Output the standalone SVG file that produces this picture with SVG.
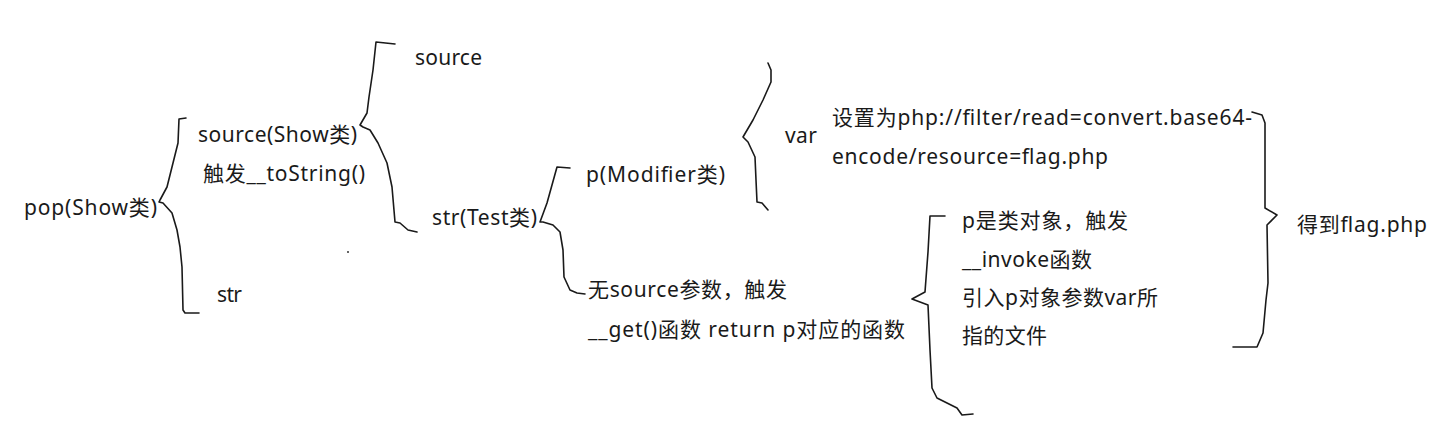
<svg xmlns="http://www.w3.org/2000/svg" width="1451" height="431" viewBox="0 0 1451 431">
<style>
.t{font-family:"Noto Sans","Noto Sans CJK SC",sans-serif;font-size:21px;fill:#1a1a1a}
.b{fill:none;stroke:#1a1a1a;stroke-width:1.6;stroke-linejoin:round;stroke-linecap:round}
</style>
<rect width="1451" height="431" fill="#ffffff"/>
<g id="connectors">
<path class="b" d="M186,118 L179,119 L178,143 L173,163 L167,187 L160,200 L159,202 L163,203 L172,213 L177,230 L180,247 L182,267 L183,310 L185,313 L199,313"/>
<path class="b" d="M395,44 L376,42 L373,70 L369,97 L367,113 L360,125 L363,127 L370,130 L378,143 L387,163 L392,187 L395,222 L400,223 L408,230 L417,232"/>
<path class="b" d="M570,168 L557,167 L547,203 L540,222 L543,222 L553,225 L560,232 L563,250 L564,277 L570,290 L577,293 L585,294"/>
<path class="b" d="M768,63 L771,70 L771,82 L763,100 L753,120 L743,137 L748,142 L755,157 L756,180 L757,202 L762,203 L768,210"/>
<path class="b" d="M1252,112 L1262,115 L1265,123 L1265,208 L1277,215 L1267,225 L1268,283 L1266,300 L1263,333 L1257,347 L1233,347"/>
<path class="b" d="M945,216 L930,216 L928,252 L925,292 L912,299 L928,305 L930,350 L932,388 L937,398 L957,408 L962,415 L973,414"/>
<circle cx="348" cy="252" r="1" fill="#333"/>
</g>
<g id="pop"><text class="t" x="24" y="215" textLength="133">pop(Show类)</text></g>
<g id="source-show"><text class="t" x="198" y="142" textLength="159">source(Show类)</text><text class="t" x="203" y="181" textLength="162">触发__toString()</text></g>
<g id="str1"><text class="t" x="217" y="302" textLength="25">str</text></g>
<g id="source"><text class="t" x="415" y="65" textLength="67">source</text></g>
<g id="str-test"><text class="t" x="432" y="225" textLength="105">str(Test类)</text></g>
<g id="p-modifier"><text class="t" x="586" y="182" textLength="139">p(Modifier类)</text></g>
<g id="var"><text class="t" x="785" y="143" textLength="32">var</text></g>
<g id="var-value"><text class="t" x="832" y="125" textLength="420">设置为php://filter/read=convert.base64-</text><text class="t" x="832" y="164" textLength="276">encode/resource=flag.php</text></g>
<g id="get"><text class="t" x="588" y="297" textLength="199">无source参数，触发</text><text class="t" x="588" y="337" textLength="317">__get()函数 return p对应的函数</text></g>
<g id="invoke"><text class="t" x="962" y="228" textLength="166">p是类对象，触发</text><text class="t" x="962" y="267" textLength="130">__invoke函数</text><text class="t" x="962" y="305" textLength="196">引入p对象参数var所</text><text class="t" x="962" y="343" textLength="85">指的文件</text></g>
<g id="result"><text class="t" x="1297" y="232" textLength="130">得到flag.php</text></g>
</svg>
